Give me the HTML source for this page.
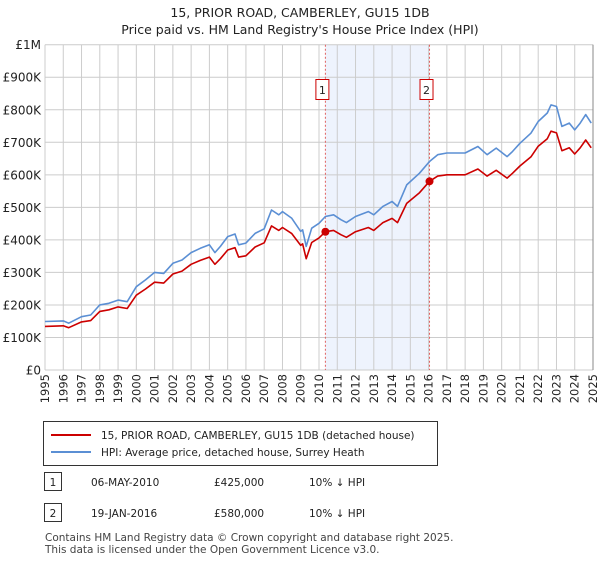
<!DOCTYPE html>
<html><head><meta charset="utf-8"><style>
body{margin:0;background:#fff;font-family:"Liberation Sans","DejaVu Sans",sans-serif;}
svg text{font-family:"DejaVu Sans","Liberation Sans",sans-serif;}
</style></head><body>
<svg id="c" width="600" height="560" viewBox="0 0 600 560">
<text x="300" y="17" text-anchor="middle" font-size="12.5" fill="#222">15, PRIOR ROAD, CAMBERLEY, GU15 1DB</text>
<text x="300" y="34" text-anchor="middle" font-size="12.5" fill="#222">Price paid vs. HM Land Registry's House Price Index (HPI)</text>
<g id="plot"></g>
<g>
<rect x="43.5" y="421.5" width="394" height="44" fill="#fff" stroke="#333"/>
<line x1="51" y1="435" x2="91" y2="435" stroke="#cc0000" stroke-width="2"/>
<text x="101" y="439" font-size="10.5" fill="#222">15, PRIOR ROAD, CAMBERLEY, GU15 1DB (detached house)</text>
<line x1="51" y1="452" x2="91" y2="452" stroke="#5b8fd4" stroke-width="2"/>
<text x="101" y="456" font-size="10.5" fill="#222">HPI: Average price, detached house, Surrey Heath</text>
</g>
<g font-size="10.5" fill="#222">
<rect x="44.5" y="472.5" width="17" height="18" fill="#fff" stroke="#333"/>
<text x="53" y="486" text-anchor="middle">1</text>
<text x="91" y="486">06-MAY-2010</text><text x="214" y="486">£425,000</text><text x="309" y="486">10% ↓ HPI</text>
<rect x="44.5" y="503.5" width="17" height="18" fill="#fff" stroke="#333"/>
<text x="53" y="517" text-anchor="middle">2</text>
<text x="91" y="517">19-JAN-2016</text><text x="214" y="517">£580,000</text><text x="309" y="517">10% ↓ HPI</text>
</g>
<text x="45" y="541" font-size="10.5" fill="#444">Contains HM Land Registry data © Crown copyright and database right 2025.</text>
<text x="45" y="553" font-size="10.5" fill="#444">This data is licensed under the Open Government Licence v3.0.</text>
</svg>
<script>
const hpiYears=[1995,1996,1996.3,1997,1997.5,1998,1998.5,1999,1999.5,2000,2000.5,2001,2001.5,2002,2002.5,2003,2003.5,2004,2004.3,2004.6,2005,2005.4,2005.6,2006,2006.5,2007,2007.4,2007.8,2008,2008.5,2009,2009.1,2009.3,2009.6,2010,2010.35,2010.8,2011.2,2011.5,2012,2012.7,2013,2013.5,2014,2014.3,2014.8,2015.5,2016.05,2016.5,2017,2017.5,2018,2018.7,2019.2,2019.7,2020.3,2020.6,2021,2021.6,2022,2022.5,2022.7,2023,2023.3,2023.7,2024,2024.3,2024.6,2024.9];
const hpiValues=[149,151,144,164,169,200,205,215,210,256,277,300,297,328,338,361,374,385,361,380,410,418,385,390,420,434,492,477,487,467,426,431,380,436,451,472,477,462,453,472,487,477,503,518,503,569,605,641,662,667,667,667,687,662,682,656,672,697,728,764,790,815,810,749,759,738,759,785,759];
const priceValues=[134,136,130,148,152,180,185,194,189,230,249,270,267,295,304,325,337,347,325,342,369,376,347,351,378,391,443,429,438,420,383,388,342,392,406,425,429,416,408,425,438,429,453,466,453,512,545,580,596,600,600,600,618,596,614,590,605,627,655,688,711,734,729,674,683,664,683,707,683];
const saleYears=[2010.35,2016.05];
const saleValues=[425,580];
const saleLabels=["1","2"];
const yTicks=[0,100,200,300,400,500,600,700,800,900,1000];
const yTickLabels=["£0","£100K","£200K","£300K","£400K","£500K","£600K","£700K","£800K","£900K","£1M"];
const xTicks=[1995,1996,1997,1998,1999,2000,2001,2002,2003,2004,2005,2006,2007,2008,2009,2010,2011,2012,2013,2014,2015,2016,2017,2018,2019,2020,2021,2022,2023,2024,2025];

const X0=45,X1=593,Y0=370,Y1=44.7;
const xs=y=>X0+(y-1995)/(2025-1995)*(X1-X0);
const ys=v=>Y0-v/1000*(Y0-Y1);
const NS="http://www.w3.org/2000/svg";
const g=document.getElementById('plot');
function mk(t,a,p){const e=document.createElementNS(NS,t);for(const k in a)e.setAttribute(k,a[k]);(p||g).appendChild(e);return e;}

const shade=mk('rect',{x:xs(saleYears[0]),y:Y1,width:xs(saleYears[1])-xs(saleYears[0]),height:Y0-Y1,fill:'#eef3fd'});


xTicks.forEach((t,i)=>{
  const l=mk('line',{x1:xs(t),x2:xs(t),y1:Y1,y2:Y0,stroke:'#cccccc','stroke-width':1});
  
  
  const tx=mk('text',{x:0,y:0,'font-size':11.5,fill:'#222','text-anchor':'end',transform:`translate(${xs(t)+4},${Y0+4}) rotate(-90)`});
  tx.textContent=String(t);
  
  
});
yTicks.forEach((t,i)=>{
  const l=mk('line',{x1:X0,x2:X1,y1:ys(t),y2:ys(t),stroke:'#cccccc','stroke-width':1});
  
  
  const tx=mk('text',{x:X0-4,y:ys(t)+4.5,'font-size':12,fill:'#222','text-anchor':'end'});
  tx.textContent=yTickLabels[i];
  
  
});
const rb=mk('line',{x1:X1,x2:X1,y1:Y1,y2:Y0,stroke:'#888','stroke-width':1});


saleYears.forEach((s,i)=>{
  const l=mk('line',{x1:xs(s),x2:xs(s),y1:Y1,y2:Y0,stroke:'#e06060','stroke-width':1,'stroke-dasharray':'2,2'});
  
  
});
function path(vals,color,name){
  const d=hpiYears.map((y,i)=>(i?'L':'M')+xs(y).toFixed(1)+','+ys(vals[i]).toFixed(1)).join('');
  const p=mk('path',{d:d,fill:'none',stroke:color,'stroke-width':1.6,'stroke-linejoin':'round'});
  
  
}
path(hpiValues,'#5b8fd4','hpi-line');
path(priceValues,'#cc0000','price-paid-line');
saleYears.forEach((s,i)=>{
  const c=mk('circle',{cx:xs(s),cy:ys(saleValues[i]),r:4,fill:'#cc0000'});
  
  
  const bx=xs(s)-8-(i?1:0)*0;
  const r=mk('rect',{x:xs(s)-9.5,y:79.5,width:13,height:20,fill:'#fff',stroke:'#cc0000'});
  
  
  const t=mk('text',{x:xs(s)-3,y:94,'font-size':11,fill:'#222','text-anchor':'middle'});
  t.textContent=saleLabels[i];
  
  
});
</script>
</body></html>
